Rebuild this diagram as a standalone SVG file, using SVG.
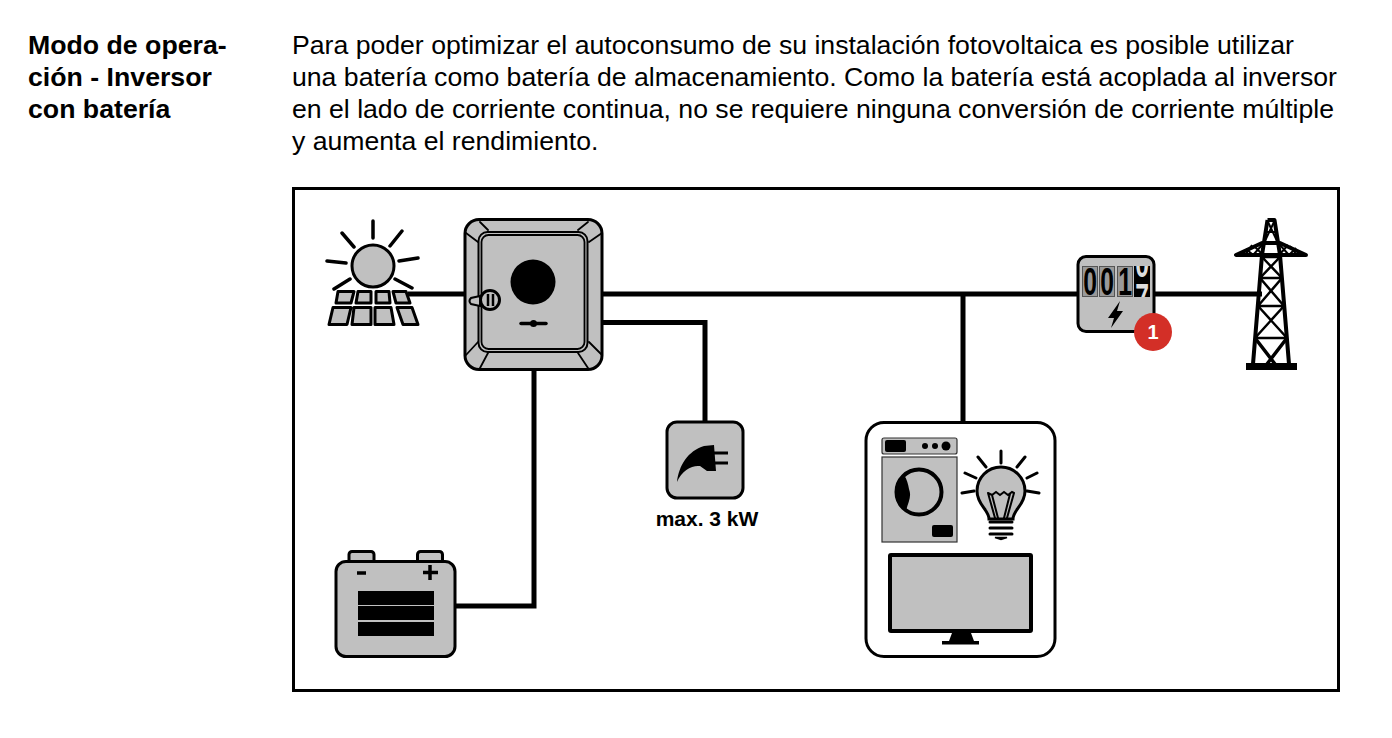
<svg xmlns="http://www.w3.org/2000/svg" width="1392" height="738" viewBox="0 0 1392 738">
<style>
text{font-family:"Liberation Sans",Arial,sans-serif;fill:#000}
.h{font-size:26.7px;font-weight:700}
.b{font-size:26.64px}
.g{fill:#c0c0c0;stroke:#000;stroke-width:3}
.k{fill:none;stroke:#000;stroke-linecap:round}
.w{fill:none;stroke:#000;stroke-width:5}
.d{font-size:38px;font-weight:700;text-anchor:middle}
</style>
<defs>
<clipPath id="c4"><rect x="1134" y="266" width="16" height="31"/></clipPath>
</defs>
<rect width="1392" height="738" fill="#fff"/>
<g id="heading">
<text class="h" x="28" y="54">Modo de opera-</text>
<text class="h" x="28" y="86">ción - Inversor</text>
<text class="h" x="28" y="118">con batería</text>
</g>
<g id="intro">
<text class="b" x="292" y="54">Para poder optimizar el autoconsumo de su instalación fotovoltaica es posible utilizar</text>
<text class="b" x="292" y="86">una batería como batería de almacenamiento. Como la batería está acoplada al inversor</text>
<text class="b" x="292" y="118">en el lado de corriente continua, no se requiere ninguna conversión de corriente múltiple</text>
<text class="b" x="292" y="150">y aumenta el rendimiento.</text>
</g>
<rect id="frame" x="293.500" y="188.500" width="1045" height="502" fill="none" stroke="#000" stroke-width="3"/>
<g id="connectors">
<path class="w" d="M408 294H1262"/>
<path class="w" d="M600 322.500H705V424"/>
<path class="w" d="M534 368V606H454"/>
<path class="w" d="M963 294V424"/>
</g>
<g id="pv">
<circle class="g" cx="373" cy="266" r="21"/>
<g class="k" stroke-width="3.500">
<path d="M373 221V238M342 233L354 247M402 231L390 246M327 261L346 263M418 258L399 261M334 289L350 279M412 288L395 279"/>
</g>
<g fill="#c0c0c0" stroke="#000" stroke-width="3" stroke-linejoin="round">
<path d="M338 291.500H354L351 303H336ZM358 291.500H371V303H356ZM376 291.500H389L390 303H376ZM393 291.500H406L410 303H396Z"/>
<path d="M333 307.500H351L347 324.500H329ZM354 307.500H371V324.500H352ZM375 307.500H391L394 324.500H375ZM397 307.500H412L418 324.500H403Z"/>
</g>
</g>
<g id="inverter">
<rect class="g" x="465" y="219.500" width="137" height="150" rx="14" stroke-width="3.500"/>
<path class="k" stroke-width="1.800" d="M480 222L488 230M466 233L478 242M588 222L578 230M602 233L589 242M478 342L466 355M488 353L480 368M589 342L602 355M578 353L588 368"/>
<rect x="478.500" y="232" width="109" height="120" rx="9" fill="none" stroke="#000" stroke-width="2"/>
<rect x="481.500" y="235" width="103" height="114" rx="7" fill="none" stroke="#000" stroke-width="1.800"/>
<circle cx="533" cy="282" r="22.500" fill="#000"/>
<path d="M480 296L471 298Q468 301 471 304L480 306Z" fill="#c0c0c0" stroke="#000" stroke-width="2"/>
<circle cx="490" cy="300" r="9.500" fill="#c0c0c0" stroke="#000" stroke-width="3"/>
<path d="M488 294V306M493 294V306" stroke="#000" stroke-width="2.500"/>
<path d="M521 323.500H546" stroke="#000" stroke-width="3.500" stroke-linecap="round"/>
<circle cx="533.500" cy="323.500" r="3.500" fill="#000"/>
</g>
<g id="meter">
<rect class="g" x="1078" y="256.500" width="76" height="75" rx="8"/>
<rect x="1082.500" y="266.500" width="15" height="30" fill="#999" stroke="#555"/>
<rect x="1099.500" y="266.500" width="15" height="30" fill="#999" stroke="#555"/>
<rect x="1117.500" y="266.500" width="15" height="30" fill="#999" stroke="#555"/>
<rect x="1134" y="266" width="16" height="31" fill="#000"/>
<text class="d" transform="translate(1090 295) scale(.65 1)" x="0" y="0">0</text>
<text class="d" transform="translate(1107 295) scale(.65 1)" x="0" y="0">0</text>
<text class="d" transform="translate(1125 295) scale(.65 1)" x="0" y="0">1</text>
<g clip-path="url(#c4)">
<text class="d" style="fill:#ddd" transform="translate(1142 0) scale(.65 1)"><tspan x="0" y="277.500">0</tspan><tspan x="0" y="311">7</tspan></text>
</g>
<path d="M1120 301L1108 318H1114L1111 328L1123 311H1117Z" fill="#000"/>
</g>
<g id="badge">
<circle cx="1153" cy="332" r="19" fill="#d32f27"/>
<text x="1153" y="339" text-anchor="middle" font-size="20" font-weight="700" style="fill:#fff">1</text>
</g>
<g id="tower" fill="none" stroke="#000" stroke-linejoin="round">
<path d="M1267.500 220H1274.500L1280 255L1289 364M1267.500 220L1262 255L1253 364" stroke-width="4"/>
<path d="M1236 255H1306L1280 243H1262Z" stroke-width="4"/>
<path d="M1264 232H1278M1263 243H1279M1268 222L1278 243M1274 222L1264 243M1246 254L1252 245M1252 254L1246 249M1262 254L1254 246M1254 254L1262 245M1280 254L1288 245M1288 254L1280 245M1296 254L1290 246M1290 254L1296 248" stroke-width="2"/>
<path d="M1262 257H1280M1260 278H1282M1258 306H1284M1255 338H1287M1262 257L1282 278M1280 257L1260 278M1260 278L1284 306M1282 278L1258 306M1258 306L1287 338M1284 306L1255 338" stroke-width="2.500"/>
<path d="M1255 338L1275 364M1287 338L1267 364" stroke-width="3.500"/>
<rect x="1246" y="363" width="51" height="7" fill="#000" stroke="none"/>
</g>
<g id="plug">
<rect class="g" x="667" y="422" width="76" height="76" rx="10"/>
<path d="M677 482C679 465 688 451 704 446L714 445L716 471H707L700 466C692 465 682 470 677 482Z" fill="#000"/>
<path d="M714 453H728M714 463H728" stroke="#000" stroke-width="3"/>
<text x="707" y="526" text-anchor="middle" font-size="21" font-weight="700">max. 3 kW</text>
</g>
<g id="battery">
<rect class="g" x="349" y="551.500" width="25" height="14" rx="3"/>
<rect class="g" x="417.500" y="551.500" width="25" height="14" rx="3"/>
<rect class="g" x="336" y="561.500" width="119" height="95" rx="10"/>
<path d="M357 573H366" stroke="#000" stroke-width="3.500"/>
<path d="M430 565V580M423 572.500H438" stroke="#000" stroke-width="3.500"/>
<rect x="358" y="591" width="76" height="14" fill="#000"/>
<rect x="358" y="606" width="76" height="14" fill="#000"/>
<rect x="358" y="622" width="76" height="14" fill="#000"/>
</g>
<g id="loads">
<rect x="866" y="422.500" width="189" height="234" rx="18" fill="#fff" stroke="#000" stroke-width="3"/>
<rect x="882" y="438" width="75" height="16" rx="2" fill="#c0c0c0" stroke="#333" stroke-width="1.200"/>
<rect x="885" y="440" width="21" height="12" rx="2" fill="#000"/>
<circle cx="925" cy="446" r="3" fill="#000"/>
<circle cx="935" cy="446" r="3" fill="#000"/>
<circle cx="946" cy="446" r="4.500" fill="#000"/>
<rect x="882" y="457" width="75" height="85" fill="#c0c0c0" stroke="#333" stroke-width="1.200"/>
<circle cx="919" cy="492" r="22.500" fill="none" stroke="#000" stroke-width="4"/>
<path d="M904 475C892 484 892 502 906 511C908 502 912 497 909 489C908 484 907 479 904 475Z" fill="#000"/>
<rect x="932" y="525" width="21" height="12" rx="2" fill="#000"/>
<path d="M989 519C989 510 977 505 977 491A24 24 0 0 1 1025 491C1025 505 1013 510 1013 519Z" class="g" stroke-width="2.500"/>
<path class="k" stroke-width="2" d="M988 493L992 495L996 492L1000 495L1004 492L1008 495L1012 492L1014 493M988 493L995 518M1014 493L1007 518M992 495L998 518M1010 494L1004 518"/>
<path class="k" stroke-width="3" d="M990 522H1012M990 528H1012M990 534H1012"/>
<path d="M995 537.500H1007L1001 539.500Z" fill="#000" stroke="#000" stroke-width="1.500"/>
<path class="k" stroke-width="3" d="M1001 451V463M978 457L986 467M1025 457L1017 467M965 473L976 478M1037 473L1027 478M962 493L974 491M1039 493L1027 491"/>
<rect x="890" y="555" width="141" height="76" rx="1" fill="#c0c0c0" stroke="#000" stroke-width="4"/>
<path d="M952 633H971L974 641H949Z" fill="#000"/>
<rect x="942" y="641" width="37" height="3.500" fill="#000"/>
</g>
</svg>
